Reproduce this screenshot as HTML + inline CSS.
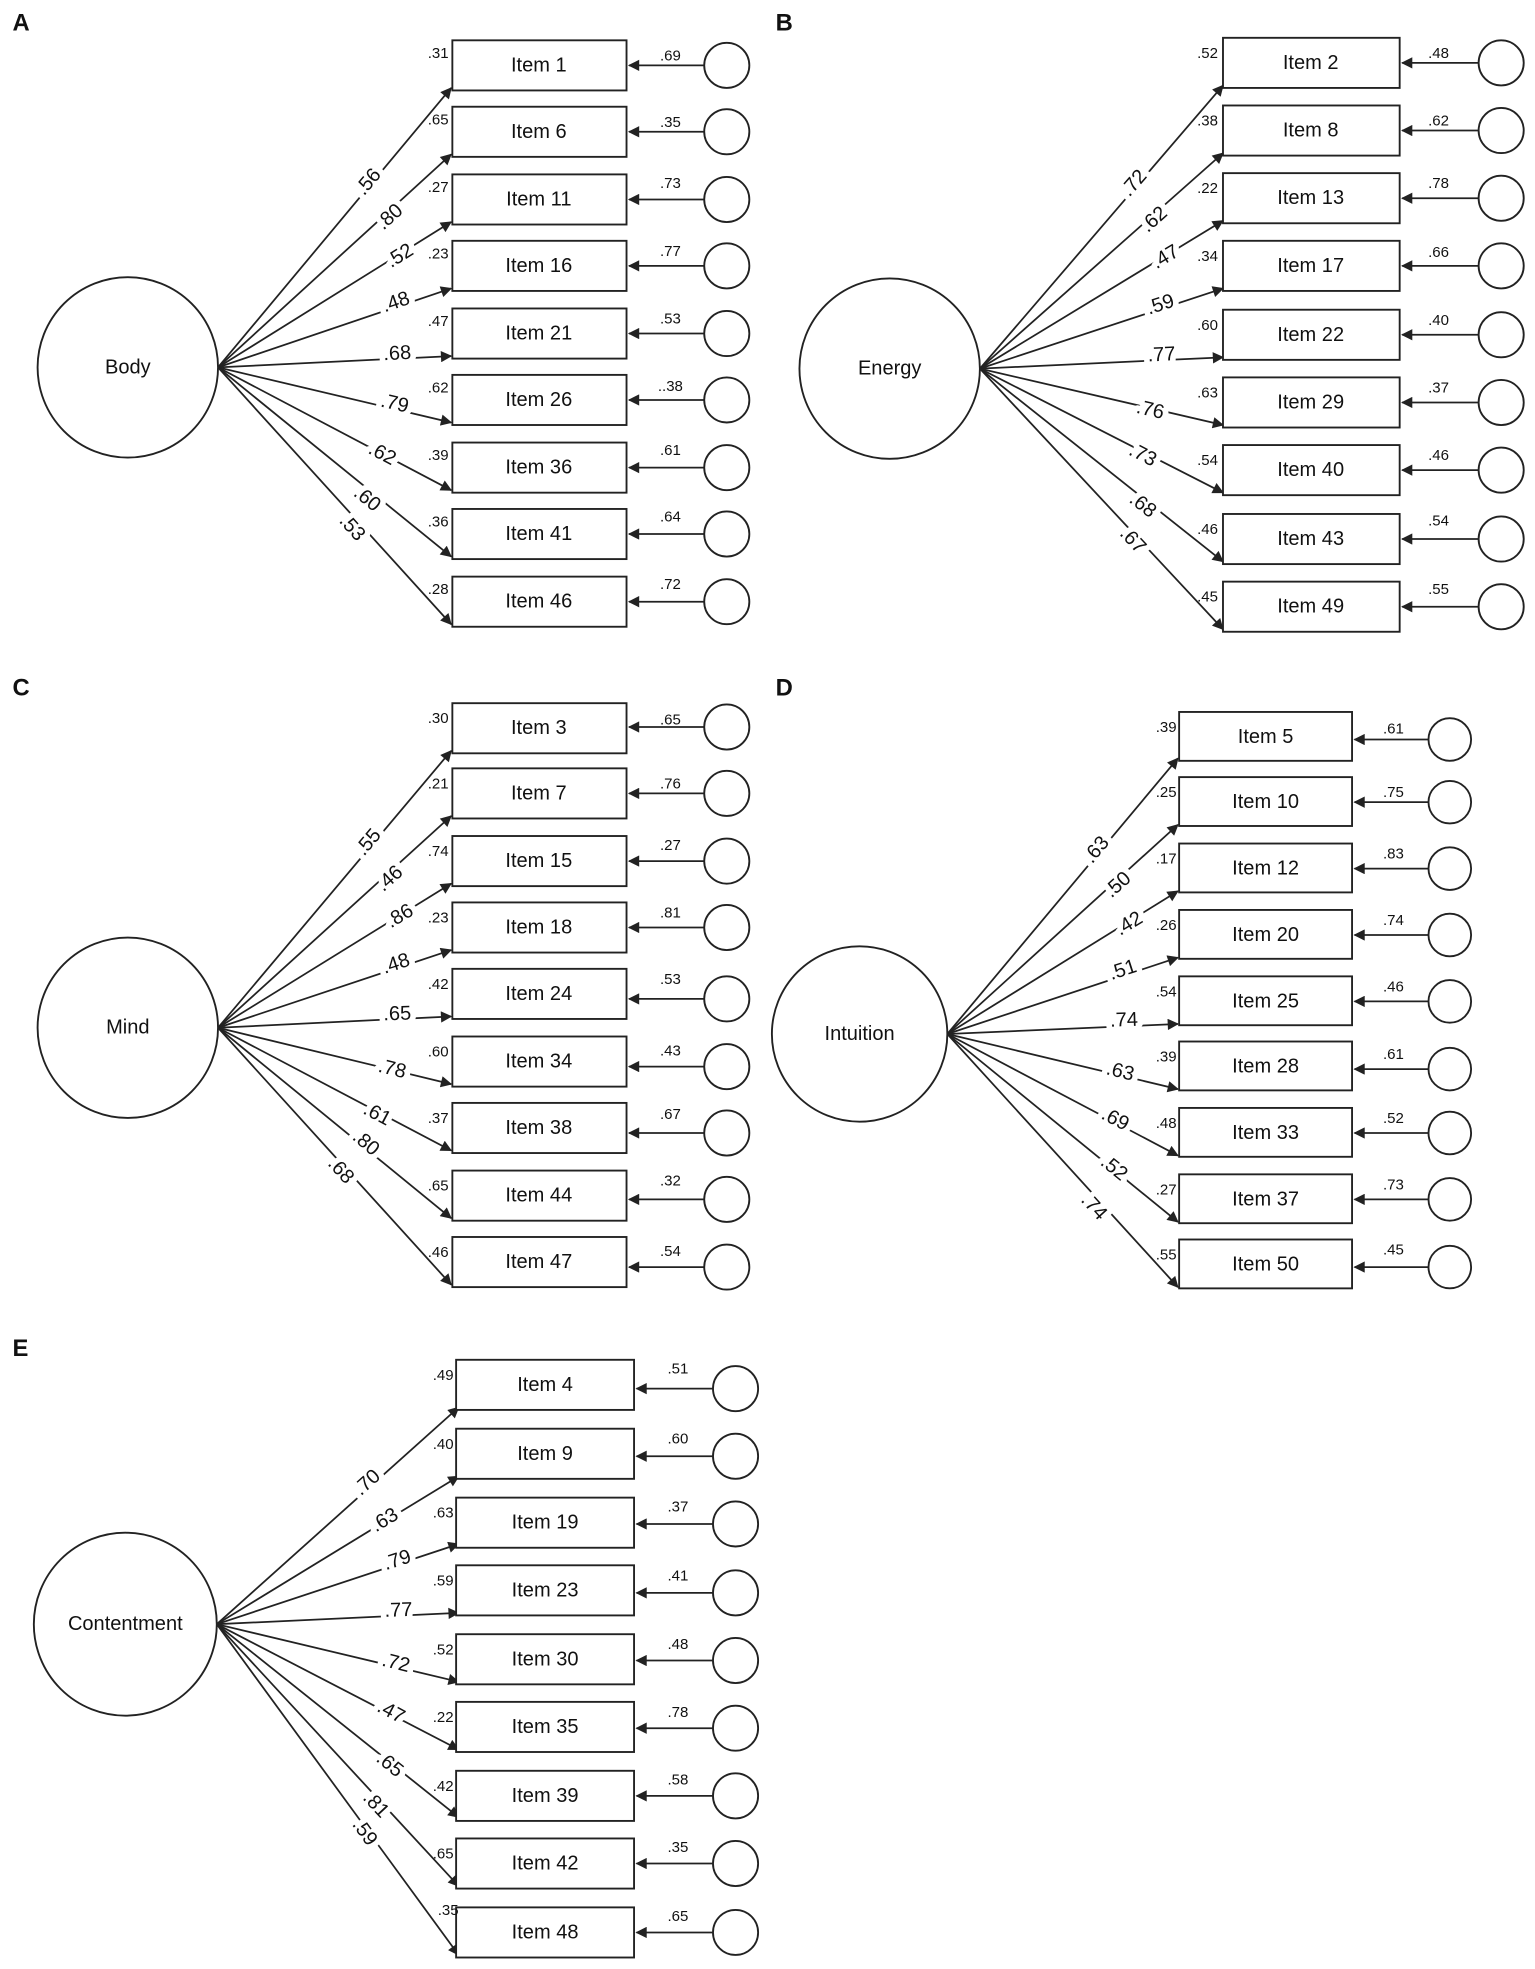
<!DOCTYPE html>
<html><head><meta charset="utf-8"><style>
html,body{margin:0;padding:0;background:#fff}
svg{display:block}
text{font-family:"Liberation Sans",Arial,sans-serif;fill:#111}
.it{font-size:16px;text-anchor:middle;dominant-baseline:central}
.s{font-size:12px}
.r{font-size:12px;text-anchor:end}
.e{font-size:12px;text-anchor:middle}
.l{font-size:16px;text-anchor:middle;dominant-baseline:central;stroke:#fff;stroke-width:9px;paint-order:stroke;stroke-linejoin:round}
.lat{font-size:16px;text-anchor:middle;dominant-baseline:central}
.p{font-size:19px;font-weight:bold}
rect{fill:#fff;stroke:#222;stroke-width:1.5}
circle{fill:#fff;stroke:#222;stroke-width:1.5}
line{stroke:#222;stroke-width:1.4}
</style></head><body>
<svg width="1535" height="1969" viewBox="0 0 1225 1571" xmlns="http://www.w3.org/2000/svg">
<defs><marker id="a" viewBox="0 0 10 10" refX="9" refY="5" markerWidth="10" markerHeight="9" orient="auto-start-reverse" markerUnits="userSpaceOnUse"><path d="M0,0 L10,5 L0,10 z" fill="#222"/></marker></defs>

<text class="p" x="10" y="24">A</text>
<text class="p" x="619" y="24">B</text>
<text class="p" x="10" y="555">C</text>
<text class="p" x="619" y="555">D</text>
<text class="p" x="10" y="1082">E</text>

<!-- PANEL A -->
<g>
<line x1="174" y1="293" x2="360" y2="70" marker-end="url(#a)"/>
<line x1="174" y1="293" x2="360" y2="123" marker-end="url(#a)"/>
<line x1="174" y1="293" x2="360" y2="177" marker-end="url(#a)"/>
<line x1="174" y1="293" x2="360" y2="230" marker-end="url(#a)"/>
<line x1="174" y1="293" x2="360" y2="284" marker-end="url(#a)"/>
<line x1="174" y1="293" x2="360" y2="337" marker-end="url(#a)"/>
<line x1="174" y1="293" x2="360" y2="391" marker-end="url(#a)"/>
<line x1="174" y1="293" x2="360" y2="444" marker-end="url(#a)"/>
<line x1="174" y1="293" x2="360" y2="498" marker-end="url(#a)"/>
<circle cx="102" cy="293" r="72"/><text class="lat" x="102" y="293">Body</text>
<text class="l" transform="translate(294,145) rotate(-50)">.56</text>
<text class="l" transform="translate(311,173) rotate(-42)">.80</text>
<text class="l" transform="translate(319,204) rotate(-32)">.52</text>
<text class="l" transform="translate(316,241) rotate(-19)">.48</text>
<text class="l" transform="translate(317,282) rotate(-3)">.68</text>
<text class="l" transform="translate(315,322) rotate(13)">.79</text>
<text class="l" transform="translate(305,362) rotate(28)">.62</text>
<text class="l" transform="translate(293,398) rotate(39)">.60</text>
<text class="l" transform="translate(281,421) rotate(48)">.53</text>

<rect x="361" y="32" width="139" height="40"/><text class="it" x="430" y="52">Item 1</text><text class="r" x="358" y="46">.31</text>
<rect x="361" y="85" width="139" height="40"/><text class="it" x="430" y="105">Item 6</text><text class="r" x="358" y="99">.65</text>
<rect x="361" y="139" width="139" height="40"/><text class="it" x="430" y="159">Item 11</text><text class="r" x="358" y="153">.27</text>
<rect x="361" y="192" width="139" height="40"/><text class="it" x="430" y="212">Item 16</text><text class="r" x="358" y="206">.23</text>
<rect x="361" y="246" width="139" height="40"/><text class="it" x="430" y="266">Item 21</text><text class="r" x="358" y="260">.47</text>
<rect x="361" y="299" width="139" height="40"/><text class="it" x="430" y="319">Item 26</text><text class="r" x="358" y="313">.62</text>
<rect x="361" y="353" width="139" height="40"/><text class="it" x="430" y="373">Item 36</text><text class="r" x="358" y="367">.39</text>
<rect x="361" y="406" width="139" height="40"/><text class="it" x="430" y="426">Item 41</text><text class="r" x="358" y="420">.36</text>
<rect x="361" y="460" width="139" height="40"/><text class="it" x="430" y="480">Item 46</text><text class="r" x="358" y="474">.28</text>

<line x1="562" y1="52" x2="502" y2="52" marker-end="url(#a)"/><circle cx="580" cy="52" r="18"/><text class="e" x="535" y="48">.69</text>
<line x1="562" y1="105" x2="502" y2="105" marker-end="url(#a)"/><circle cx="580" cy="105" r="18"/><text class="e" x="535" y="101">.35</text>
<line x1="562" y1="159" x2="502" y2="159" marker-end="url(#a)"/><circle cx="580" cy="159" r="18"/><text class="e" x="535" y="150">.73</text>
<line x1="562" y1="212" x2="502" y2="212" marker-end="url(#a)"/><circle cx="580" cy="212" r="18"/><text class="e" x="535" y="204">.77</text>
<line x1="562" y1="266" x2="502" y2="266" marker-end="url(#a)"/><circle cx="580" cy="266" r="18"/><text class="e" x="535" y="258">.53</text>
<line x1="562" y1="319" x2="502" y2="319" marker-end="url(#a)"/><circle cx="580" cy="319" r="18"/><text class="e" x="535" y="312">..38</text>
<line x1="562" y1="373" x2="502" y2="373" marker-end="url(#a)"/><circle cx="580" cy="373" r="18"/><text class="e" x="535" y="363">.61</text>
<line x1="562" y1="426" x2="502" y2="426" marker-end="url(#a)"/><circle cx="580" cy="426" r="18"/><text class="e" x="535" y="416">.64</text>
<line x1="562" y1="480" x2="502" y2="480" marker-end="url(#a)"/><circle cx="580" cy="480" r="18"/><text class="e" x="535" y="470">.72</text>
</g>

<!-- PANEL B -->
<g>
<line x1="782" y1="294" x2="976" y2="68" marker-end="url(#a)"/>
<line x1="782" y1="294" x2="976" y2="122" marker-end="url(#a)"/>
<line x1="782" y1="294" x2="976" y2="176" marker-end="url(#a)"/>
<line x1="782" y1="294" x2="976" y2="230" marker-end="url(#a)"/>
<line x1="782" y1="294" x2="976" y2="285" marker-end="url(#a)"/>
<line x1="782" y1="294" x2="976" y2="339" marker-end="url(#a)"/>
<line x1="782" y1="294" x2="976" y2="393" marker-end="url(#a)"/>
<line x1="782" y1="294" x2="976" y2="448" marker-end="url(#a)"/>
<line x1="782" y1="294" x2="976" y2="502" marker-end="url(#a)"/>
<circle cx="710" cy="294" r="72"/><text class="lat" x="710" y="294">Energy</text>
<text class="l" transform="translate(905,146) rotate(-49)">.72</text>
<text class="l" transform="translate(921,175) rotate(-42)">.62</text>
<text class="l" transform="translate(930,205) rotate(-31)">.47</text>
<text class="l" transform="translate(926,243) rotate(-18)">.59</text>
<text class="l" transform="translate(927,283) rotate(-3)">.77</text>
<text class="l" transform="translate(918,327) rotate(13)">.76</text>
<text class="l" transform="translate(912,363) rotate(27)">.73</text>
<text class="l" transform="translate(912,403) rotate(38)">.68</text>
<text class="l" transform="translate(904,431) rotate(47)">.67</text>

<rect x="976" y="30" width="141" height="40"/><text class="it" x="1046" y="50">Item 2</text><text class="r" x="972" y="46">.52</text>
<rect x="976" y="84" width="141" height="40"/><text class="it" x="1046" y="104">Item 8</text><text class="r" x="972" y="100">.38</text>
<rect x="976" y="138" width="141" height="40"/><text class="it" x="1046" y="158">Item 13</text><text class="r" x="972" y="154">.22</text>
<rect x="976" y="192" width="141" height="40"/><text class="it" x="1046" y="212">Item 17</text><text class="r" x="972" y="208">.34</text>
<rect x="976" y="247" width="141" height="40"/><text class="it" x="1046" y="267">Item 22</text><text class="r" x="972" y="263">.60</text>
<rect x="976" y="301" width="141" height="40"/><text class="it" x="1046" y="321">Item 29</text><text class="r" x="972" y="317">.63</text>
<rect x="976" y="355" width="141" height="40"/><text class="it" x="1046" y="375">Item 40</text><text class="r" x="972" y="371">.54</text>
<rect x="976" y="410" width="141" height="40"/><text class="it" x="1046" y="430">Item 43</text><text class="r" x="972" y="426">.46</text>
<rect x="976" y="464" width="141" height="40"/><text class="it" x="1046" y="484">Item 49</text><text class="r" x="972" y="480">.45</text>

<line x1="1180" y1="50" x2="1119" y2="50" marker-end="url(#a)"/><circle cx="1198" cy="50" r="18"/><text class="e" x="1148" y="46">.48</text>
<line x1="1180" y1="104" x2="1119" y2="104" marker-end="url(#a)"/><circle cx="1198" cy="104" r="18"/><text class="e" x="1148" y="100">.62</text>
<line x1="1180" y1="158" x2="1119" y2="158" marker-end="url(#a)"/><circle cx="1198" cy="158" r="18"/><text class="e" x="1148" y="150">.78</text>
<line x1="1180" y1="212" x2="1119" y2="212" marker-end="url(#a)"/><circle cx="1198" cy="212" r="18"/><text class="e" x="1148" y="205">.66</text>
<line x1="1180" y1="267" x2="1119" y2="267" marker-end="url(#a)"/><circle cx="1198" cy="267" r="18"/><text class="e" x="1148" y="259">.40</text>
<line x1="1180" y1="321" x2="1119" y2="321" marker-end="url(#a)"/><circle cx="1198" cy="321" r="18"/><text class="e" x="1148" y="313">.37</text>
<line x1="1180" y1="375" x2="1119" y2="375" marker-end="url(#a)"/><circle cx="1198" cy="375" r="18"/><text class="e" x="1148" y="367">.46</text>
<line x1="1180" y1="430" x2="1119" y2="430" marker-end="url(#a)"/><circle cx="1198" cy="430" r="18"/><text class="e" x="1148" y="419">.54</text>
<line x1="1180" y1="484" x2="1119" y2="484" marker-end="url(#a)"/><circle cx="1198" cy="484" r="18"/><text class="e" x="1148" y="474">.55</text>
</g>

<!-- PANEL C -->
<g>
<line x1="174" y1="820" x2="360" y2="599" marker-end="url(#a)"/>
<line x1="174" y1="820" x2="360" y2="651" marker-end="url(#a)"/>
<line x1="174" y1="820" x2="360" y2="705" marker-end="url(#a)"/>
<line x1="174" y1="820" x2="360" y2="758" marker-end="url(#a)"/>
<line x1="174" y1="820" x2="360" y2="811" marker-end="url(#a)"/>
<line x1="174" y1="820" x2="360" y2="865" marker-end="url(#a)"/>
<line x1="174" y1="820" x2="360" y2="918" marker-end="url(#a)"/>
<line x1="174" y1="820" x2="360" y2="972" marker-end="url(#a)"/>
<line x1="174" y1="820" x2="360" y2="1025" marker-end="url(#a)"/>
<circle cx="102" cy="820" r="72"/><text class="lat" x="102" y="820">Mind</text>
<text class="l" transform="translate(294,672) rotate(-50)">.55</text>
<text class="l" transform="translate(311,701) rotate(-42)">.46</text>
<text class="l" transform="translate(319,731) rotate(-31)">.86</text>
<text class="l" transform="translate(316,769) rotate(-18)">.48</text>
<text class="l" transform="translate(317,809) rotate(-2)">.65</text>
<text class="l" transform="translate(313,853) rotate(14)">.78</text>
<text class="l" transform="translate(301,889) rotate(28)">.61</text>
<text class="l" transform="translate(292,912) rotate(40)">.80</text>
<text class="l" transform="translate(272,934) rotate(48)">.68</text>

<rect x="361" y="561" width="139" height="40"/><text class="it" x="430" y="581">Item 3</text><text class="r" x="358" y="577">.30</text>
<rect x="361" y="613" width="139" height="40"/><text class="it" x="430" y="633">Item 7</text><text class="r" x="358" y="629">.21</text>
<rect x="361" y="667" width="139" height="40"/><text class="it" x="430" y="687">Item 15</text><text class="r" x="358" y="683">.74</text>
<rect x="361" y="720" width="139" height="40"/><text class="it" x="430" y="740">Item 18</text><text class="r" x="358" y="736">.23</text>
<rect x="361" y="773" width="139" height="40"/><text class="it" x="430" y="793">Item 24</text><text class="r" x="358" y="789">.42</text>
<rect x="361" y="827" width="139" height="40"/><text class="it" x="430" y="847">Item 34</text><text class="r" x="358" y="843">.60</text>
<rect x="361" y="880" width="139" height="40"/><text class="it" x="430" y="900">Item 38</text><text class="r" x="358" y="896">.37</text>
<rect x="361" y="934" width="139" height="40"/><text class="it" x="430" y="954">Item 44</text><text class="r" x="358" y="950">.65</text>
<rect x="361" y="987" width="139" height="40"/><text class="it" x="430" y="1007">Item 47</text><text class="r" x="358" y="1003">.46</text>

<line x1="562" y1="580" x2="502" y2="580" marker-end="url(#a)"/><circle cx="580" cy="580" r="18"/><text class="e" x="535" y="578">.65</text>
<line x1="562" y1="633" x2="502" y2="633" marker-end="url(#a)"/><circle cx="580" cy="633" r="18"/><text class="e" x="535" y="629">.76</text>
<line x1="562" y1="687" x2="502" y2="687" marker-end="url(#a)"/><circle cx="580" cy="687" r="18"/><text class="e" x="535" y="678">.27</text>
<line x1="562" y1="740" x2="502" y2="740" marker-end="url(#a)"/><circle cx="580" cy="740" r="18"/><text class="e" x="535" y="732">.81</text>
<line x1="562" y1="797" x2="502" y2="797" marker-end="url(#a)"/><circle cx="580" cy="797" r="18"/><text class="e" x="535" y="785">.53</text>
<line x1="562" y1="851" x2="502" y2="851" marker-end="url(#a)"/><circle cx="580" cy="851" r="18"/><text class="e" x="535" y="842">.43</text>
<line x1="562" y1="904" x2="502" y2="904" marker-end="url(#a)"/><circle cx="580" cy="904" r="18"/><text class="e" x="535" y="893">.67</text>
<line x1="562" y1="957" x2="502" y2="957" marker-end="url(#a)"/><circle cx="580" cy="957" r="18"/><text class="e" x="535" y="946">.32</text>
<line x1="562" y1="1011" x2="502" y2="1011" marker-end="url(#a)"/><circle cx="580" cy="1011" r="18"/><text class="e" x="535" y="1002">.54</text>
</g>

<!-- PANEL D -->
<g>
<line x1="756" y1="825" x2="940" y2="605" marker-end="url(#a)"/>
<line x1="756" y1="825" x2="940" y2="658" marker-end="url(#a)"/>
<line x1="756" y1="825" x2="940" y2="711" marker-end="url(#a)"/>
<line x1="756" y1="825" x2="940" y2="764" marker-end="url(#a)"/>
<line x1="756" y1="825" x2="940" y2="817" marker-end="url(#a)"/>
<line x1="756" y1="825" x2="940" y2="869" marker-end="url(#a)"/>
<line x1="756" y1="825" x2="940" y2="922" marker-end="url(#a)"/>
<line x1="756" y1="825" x2="940" y2="975" marker-end="url(#a)"/>
<line x1="756" y1="825" x2="940" y2="1027" marker-end="url(#a)"/>
<circle cx="686" cy="825" r="70"/><text class="lat" x="686" y="825">Intuition</text>
<text class="l" transform="translate(875,678) rotate(-50)">.63</text>
<text class="l" transform="translate(892,706) rotate(-42)">.50</text>
<text class="l" transform="translate(901,737) rotate(-31)">.42</text>
<text class="l" transform="translate(896,774) rotate(-18)">.51</text>
<text class="l" transform="translate(897,814) rotate(-2)">.74</text>
<text class="l" transform="translate(894,855) rotate(14)">.63</text>
<text class="l" transform="translate(890,893) rotate(28)">.69</text>
<text class="l" transform="translate(889,932) rotate(39)">.52</text>
<text class="l" transform="translate(873,963) rotate(48)">.74</text>

<rect x="941" y="568" width="138" height="39"/><text class="it" x="1010" y="588">Item 5</text><text class="r" x="939" y="584">.39</text>
<rect x="941" y="620" width="138" height="39"/><text class="it" x="1010" y="640">Item 10</text><text class="r" x="939" y="636">.25</text>
<rect x="941" y="673" width="138" height="39"/><text class="it" x="1010" y="693">Item 12</text><text class="r" x="939" y="689">.17</text>
<rect x="941" y="726" width="138" height="39"/><text class="it" x="1010" y="746">Item 20</text><text class="r" x="939" y="742">.26</text>
<rect x="941" y="779" width="138" height="39"/><text class="it" x="1010" y="799">Item 25</text><text class="r" x="939" y="795">.54</text>
<rect x="941" y="831" width="138" height="39"/><text class="it" x="1010" y="851">Item 28</text><text class="r" x="939" y="847">.39</text>
<rect x="941" y="884" width="138" height="39"/><text class="it" x="1010" y="904">Item 33</text><text class="r" x="939" y="900">.48</text>
<rect x="941" y="937" width="138" height="39"/><text class="it" x="1010" y="957">Item 37</text><text class="r" x="939" y="953">.27</text>
<rect x="941" y="989" width="138" height="39"/><text class="it" x="1010" y="1009">Item 50</text><text class="r" x="939" y="1005">.55</text>

<line x1="1140" y1="590" x2="1081" y2="590" marker-end="url(#a)"/><circle cx="1157" cy="590" r="17"/><text class="e" x="1112" y="585">.61</text>
<line x1="1140" y1="640" x2="1081" y2="640" marker-end="url(#a)"/><circle cx="1157" cy="640" r="17"/><text class="e" x="1112" y="636">.75</text>
<line x1="1140" y1="693" x2="1081" y2="693" marker-end="url(#a)"/><circle cx="1157" cy="693" r="17"/><text class="e" x="1112" y="685">.83</text>
<line x1="1140" y1="746" x2="1081" y2="746" marker-end="url(#a)"/><circle cx="1157" cy="746" r="17"/><text class="e" x="1112" y="738">.74</text>
<line x1="1140" y1="799" x2="1081" y2="799" marker-end="url(#a)"/><circle cx="1157" cy="799" r="17"/><text class="e" x="1112" y="791">.46</text>
<line x1="1140" y1="853" x2="1081" y2="853" marker-end="url(#a)"/><circle cx="1157" cy="853" r="17"/><text class="e" x="1112" y="845">.61</text>
<line x1="1140" y1="904" x2="1081" y2="904" marker-end="url(#a)"/><circle cx="1157" cy="904" r="17"/><text class="e" x="1112" y="896">.52</text>
<line x1="1140" y1="957" x2="1081" y2="957" marker-end="url(#a)"/><circle cx="1157" cy="957" r="17"/><text class="e" x="1112" y="949">.73</text>
<line x1="1140" y1="1011" x2="1081" y2="1011" marker-end="url(#a)"/><circle cx="1157" cy="1011" r="17"/><text class="e" x="1112" y="1001">.45</text>
</g>

<!-- PANEL E -->
<g>
<line x1="173" y1="1296" x2="366" y2="1123" marker-end="url(#a)"/>
<line x1="173" y1="1296" x2="366" y2="1178" marker-end="url(#a)"/>
<line x1="173" y1="1296" x2="366" y2="1232" marker-end="url(#a)"/>
<line x1="173" y1="1296" x2="366" y2="1287" marker-end="url(#a)"/>
<line x1="173" y1="1296" x2="366" y2="1342" marker-end="url(#a)"/>
<line x1="173" y1="1296" x2="366" y2="1396" marker-end="url(#a)"/>
<line x1="173" y1="1296" x2="366" y2="1450" marker-end="url(#a)"/>
<line x1="173" y1="1296" x2="366" y2="1505" marker-end="url(#a)"/>
<line x1="173" y1="1296" x2="366" y2="1560" marker-end="url(#a)"/>
<circle cx="100" cy="1296" r="73"/><text class="lat" x="100" y="1296">Contentment</text>
<text class="l" transform="translate(293,1183) rotate(-42)">.70</text>
<text class="l" transform="translate(307,1213) rotate(-31)">.63</text>
<text class="l" transform="translate(317,1245) rotate(-18)">.79</text>
<text class="l" transform="translate(318,1285) rotate(-2)">.77</text>
<text class="l" transform="translate(316,1327) rotate(14)">.72</text>
<text class="l" transform="translate(312,1366) rotate(28)">.47</text>
<text class="l" transform="translate(311,1408) rotate(39)">.65</text>
<text class="l" transform="translate(300,1440) rotate(47)">.81</text>
<text class="l" transform="translate(291,1462) rotate(54)">.59</text>

<rect x="364" y="1085" width="142" height="40"/><text class="it" x="435" y="1105">Item 4</text><text class="r" x="362" y="1101">.49</text>
<rect x="364" y="1140" width="142" height="40"/><text class="it" x="435" y="1160">Item 9</text><text class="r" x="362" y="1156">.40</text>
<rect x="364" y="1195" width="142" height="40"/><text class="it" x="435" y="1215">Item 19</text><text class="r" x="362" y="1211">.63</text>
<rect x="364" y="1249" width="142" height="40"/><text class="it" x="435" y="1269">Item 23</text><text class="r" x="362" y="1265">.59</text>
<rect x="364" y="1304" width="142" height="40"/><text class="it" x="435" y="1324">Item 30</text><text class="r" x="362" y="1320">.52</text>
<rect x="364" y="1358" width="142" height="40"/><text class="it" x="435" y="1378">Item 35</text><text class="r" x="362" y="1374">.22</text>
<rect x="364" y="1413" width="142" height="40"/><text class="it" x="435" y="1433">Item 39</text><text class="r" x="362" y="1429">.42</text>
<rect x="364" y="1467" width="142" height="40"/><text class="it" x="435" y="1487">Item 42</text><text class="r" x="362" y="1483">.65</text>
<rect x="364" y="1522" width="142" height="40"/><text class="it" x="435" y="1542">Item 48</text><text class="r" x="366" y="1528">.35</text>

<line x1="569" y1="1108" x2="508" y2="1108" marker-end="url(#a)"/><circle cx="587" cy="1108" r="18"/><text class="e" x="541" y="1096">.51</text>
<line x1="569" y1="1162" x2="508" y2="1162" marker-end="url(#a)"/><circle cx="587" cy="1162" r="18"/><text class="e" x="541" y="1152">.60</text>
<line x1="569" y1="1216" x2="508" y2="1216" marker-end="url(#a)"/><circle cx="587" cy="1216" r="18"/><text class="e" x="541" y="1206">.37</text>
<line x1="569" y1="1271" x2="508" y2="1271" marker-end="url(#a)"/><circle cx="587" cy="1271" r="18"/><text class="e" x="541" y="1261">.41</text>
<line x1="569" y1="1325" x2="508" y2="1325" marker-end="url(#a)"/><circle cx="587" cy="1325" r="18"/><text class="e" x="541" y="1316">.48</text>
<line x1="569" y1="1379" x2="508" y2="1379" marker-end="url(#a)"/><circle cx="587" cy="1379" r="18"/><text class="e" x="541" y="1370">.78</text>
<line x1="569" y1="1433" x2="508" y2="1433" marker-end="url(#a)"/><circle cx="587" cy="1433" r="18"/><text class="e" x="541" y="1424">.58</text>
<line x1="569" y1="1487" x2="508" y2="1487" marker-end="url(#a)"/><circle cx="587" cy="1487" r="18"/><text class="e" x="541" y="1478">.35</text>
<line x1="569" y1="1542" x2="508" y2="1542" marker-end="url(#a)"/><circle cx="587" cy="1542" r="18"/><text class="e" x="541" y="1533">.65</text>
</g>
</svg>
</body></html>
